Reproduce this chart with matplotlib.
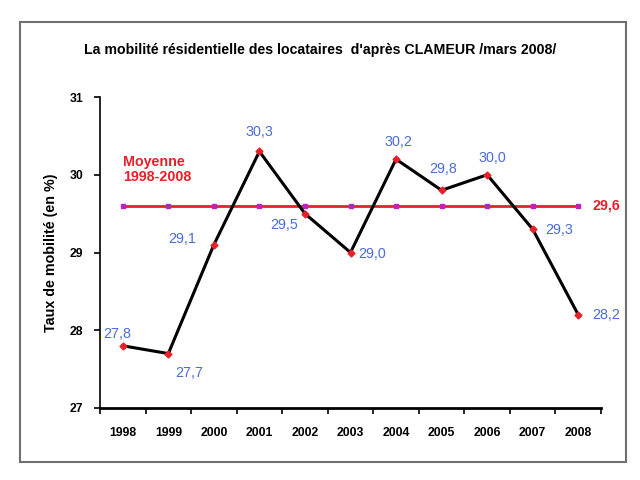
import numpy as np
import matplotlib
matplotlib.use('Agg')
import matplotlib.pyplot as plt
from matplotlib.patches import Rectangle

plt.rcParams['font.family'] = ['Liberation Sans', 'DejaVu Sans']

years = ["1998", "1999", "2000", "2001", "2002", "2003",
         "2004", "2005", "2006", "2007", "2008"]
taux = [27.8, 27.7, 29.1, 30.3, 29.5, 29.0, 30.2, 29.8, 30.0, 29.3, 28.2]
moyenne = [29.6] * len(years)
# label offsets in pixels (dx, dy), dy positive = down
offsets = [(-6, -12), (21, 19), (-32, -6), (0, -19), (-21, 11), (22, 1),
           (2, -17), (2, -21), (5, -17), (27, 1), (28, 0)]

blue = "#4a6cd4"
red = "#e8202a"

fig = plt.figure(figsize=(6.4, 4.8), dpi=100)
fig.patches.append(Rectangle((20/640, 1 - 462/480), 606/640, 440/480,
                             transform=fig.transFigure, fill=False,
                             edgecolor="#707070", linewidth=1.5))
ax = fig.add_axes([100/640, 1 - 408/480, 501/640, 311/480])

x = np.arange(len(years))
ax.plot(x, moyenne, color=red, lw=2, marker='s', ms=3,
        mfc="#c020c0", mec="#c020c0", zorder=2)
ax.plot(x, taux, color="black", lw=2.2, marker='D', ms=3.5,
        mfc=red, mec=red, zorder=3)

for i, v in enumerate(taux):
    dx, dy = offsets[i]
    ax.annotate(f"{v:.1f}".replace(".", ","), (x[i], v), xytext=(dx, -dy),
                textcoords="offset pixels", ha="center", va="center",
                color=blue, fontsize=10.3)

ax.annotate(f"{moyenne[-1]:.1f}".replace(".", ","), (x[-1], moyenne[-1]),
            xytext=(28, 0), textcoords="offset pixels", ha="center",
            va="center", color=red, fontsize=10.3, fontweight="bold")
ax.text(0, 30.07, "Moyenne\n1998-2008", color=red, fontsize=10.3,
        fontweight="bold", ha="left", va="center", linespacing=1.05)

ax.set_xlim(-0.5, len(years) - 0.5)
ax.set_ylim(27, 31)
ax.set_yticks([27, 28, 29, 30, 31])
ax.set_xticks(x)
ax.set_xticklabels(years)
ax.set_xticks(np.arange(-0.5, len(years)), minor=True)
ax.tick_params(axis='x', which='major', length=0, pad=14,
               labelsize=8.8)
ax.tick_params(axis='x', which='minor', length=4, width=1.2, direction='out')
ax.tick_params(axis='y', length=4, width=1.2, direction='out', labelsize=8.8,
               pad=8)
for lab in ax.get_xticklabels() + ax.get_yticklabels():
    lab.set_fontweight("bold")
for s in ["top", "right"]:
    ax.spines[s].set_visible(False)
ax.spines["left"].set_linewidth(1.2)
ax.spines["bottom"].set_linewidth(2)

ax.set_ylabel("Taux de mobilité (en %)", fontsize=10.3, fontweight="bold",
              labelpad=8)
fig.text(0.5, 1 - 50/480,
         "La mobilité résidentielle des locataires  d'après CLAMEUR /mars 2008/",
         ha="center", va="center", fontsize=10.2, fontweight="bold")

fig.savefig("out.png", dpi=100)
